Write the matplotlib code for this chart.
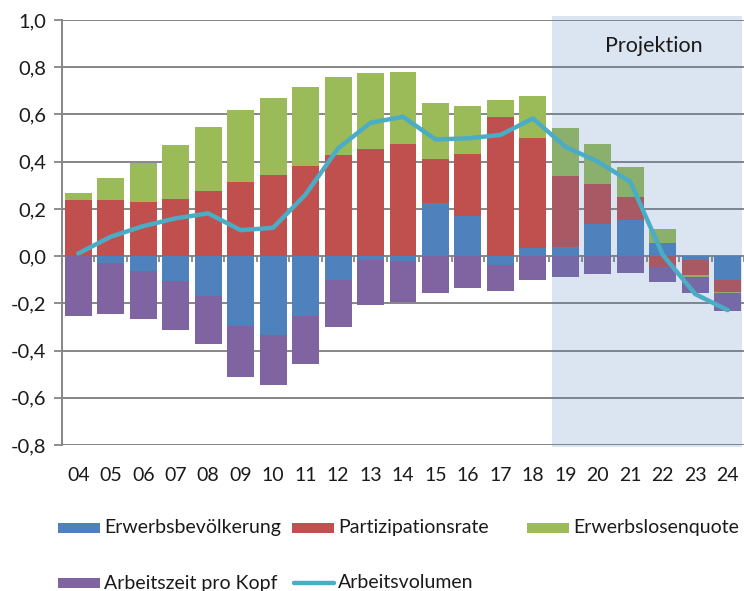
import numpy as np
import matplotlib.pyplot as plt
from matplotlib.patches import Rectangle
from matplotlib.lines import Line2D

plt.rcParams['font.family'] = ['Lato', 'DejaVu Sans']

years = ['04', '05', '06', '07', '08', '09', '10', '11', '12', '13', '14',
         '15', '16', '17', '18', '19', '20', '21', '22', '23', '24']

erwerbsbev = [0.0, -0.028, -0.064, -0.106, -0.167, -0.298, -0.336, -0.254, -0.102, -0.017, -0.021,
              0.225, 0.169, -0.038, 0.034, 0.037, 0.134, 0.153, 0.055, -0.017, -0.102]
partizipation = [0.237, 0.237, 0.230, 0.242, 0.277, 0.312, 0.343, 0.383, 0.427, 0.452, 0.475,
                 0.187, 0.262, 0.588, 0.467, 0.302, 0.171, 0.098, -0.045, -0.065, -0.048]
erwerbslos = [0.031, 0.092, 0.163, 0.227, 0.270, 0.305, 0.326, 0.335, 0.330, 0.322, 0.305,
              0.235, 0.205, 0.073, 0.177, 0.205, 0.170, 0.128, 0.061, -0.007, -0.008]
arbeitszeit = [-0.253, -0.216, -0.203, -0.205, -0.204, -0.213, -0.211, -0.204, -0.200, -0.188, -0.173,
               -0.158, -0.137, -0.110, -0.102, -0.088, -0.076, -0.071, -0.064, -0.069, -0.074]
arbeitsvolumen = [0.011, 0.082, 0.127, 0.160, 0.181, 0.110, 0.120, 0.261, 0.456, 0.565, 0.590,
                  0.494, 0.499, 0.513, 0.583, 0.463, 0.400, 0.315, 0.005, -0.161, -0.229]

series = [('Erwerbsbevölkerung', erwerbsbev, '#4f81bd'),
          ('Partizipationsrate', partizipation, '#c0504d'),
          ('Erwerbslosenquote', erwerbslos, '#9bbb59'),
          ('Arbeitszeit pro Kopf', arbeitszeit, '#8064a2')]
line_col = '#4bacc6'
grid_col = '#868686'
txt_col = '#1a1a1a'

W, H = 744, 591
fig = plt.figure(figsize=(W / 100, H / 100), dpi=100)
ax = fig.add_axes([62 / W, 1 - 445 / H, 682 / W, 425 / H])

x = np.arange(len(years))
pos = np.zeros(len(years))
neg = np.zeros(len(years))
for name, vals, col in series:
    v = np.array(vals)
    bottom = np.where(v >= 0, pos, neg)
    ax.bar(x, v, 0.83, bottom=bottom, color=col, zorder=2)
    pos = pos + np.clip(v, 0, None)
    neg = neg + np.clip(v, None, 0)

# projection shading, drawn over the bars
ax.add_patch(Rectangle((14.6, -0.81), 20.45 - 14.6, 1.827, facecolor='#4f81bd',
                       alpha=0.2, edgecolor='none', zorder=3, clip_on=False))
ax.text(17.73, 0.89, 'Projektion', ha='center', va='center', fontsize=15.5, color=txt_col, zorder=5)

ax.plot(x, arbeitsvolumen, color=line_col, lw=3.2, solid_capstyle='round', zorder=4)

ax.set_xlim(-0.5, 20.5)
ax.set_ylim(-0.8, 1.0)
yt = np.arange(-0.8, 1.01, 0.2)
ax.set_yticks(yt)
ax.set_yticklabels([f'{v:.1f}'.replace('.', ',').replace('-0,0', '0,0') for v in yt],
                   fontsize=14.5, color=txt_col)
ax.tick_params(axis='y', length=6, width=1.3, color=grid_col, pad=5)
for v in yt:
    ax.axhline(v, color=grid_col, lw=1.4, zorder=1)

ax.set_xticks(x)
ax.set_xticklabels(years, fontsize=14, color=txt_col)
ax.tick_params(axis='x', length=0, pad=16)
# category tick marks on the zero line
ax.vlines(x[:-1] + 0.5, -0.024, 0, color=grid_col, lw=1.3, zorder=1)
ax.vlines([20.5], -0.024, 0, color=grid_col, lw=1.3, zorder=1, clip_on=False)

for s in ['top', 'right', 'bottom']:
    ax.spines[s].set_visible(False)
ax.spines['left'].set_color(grid_col)
ax.spines['left'].set_linewidth(1.4)

# legend, laid out like the original
def fx(px):
    return px / W

def fy(py):
    return 1 - py / H

entries = [(58, 528, 'patch', '#4f81bd', 'Erwerbsbevölkerung'),
           (292, 528, 'patch', '#c0504d', 'Partizipationsrate'),
           (527, 528, 'patch', '#9bbb59', 'Erwerbslosenquote'),
           (58, 583, 'patch', '#8064a2', 'Arbeitszeit pro Kopf'),
           (292, 583, 'line', line_col, 'Arbeitsvolumen')]
for px, py, kind, col, label in entries:
    if kind == 'patch':
        fig.add_artist(Rectangle((fx(px), fy(py + 5)), fx(42), 10 / H,
                                 transform=fig.transFigure, facecolor=col, edgecolor='none'))
    else:
        fig.add_artist(Line2D([fx(px + 2), fx(px + 42)], [fy(py), fy(py)],
                              transform=fig.transFigure, color=col, lw=3.2,
                              solid_capstyle='round'))
    fig.text(fx(px + 46), fy(py), label, ha='left', va='center', fontsize=14, color=txt_col)

fig.savefig('out.png', dpi=100)
